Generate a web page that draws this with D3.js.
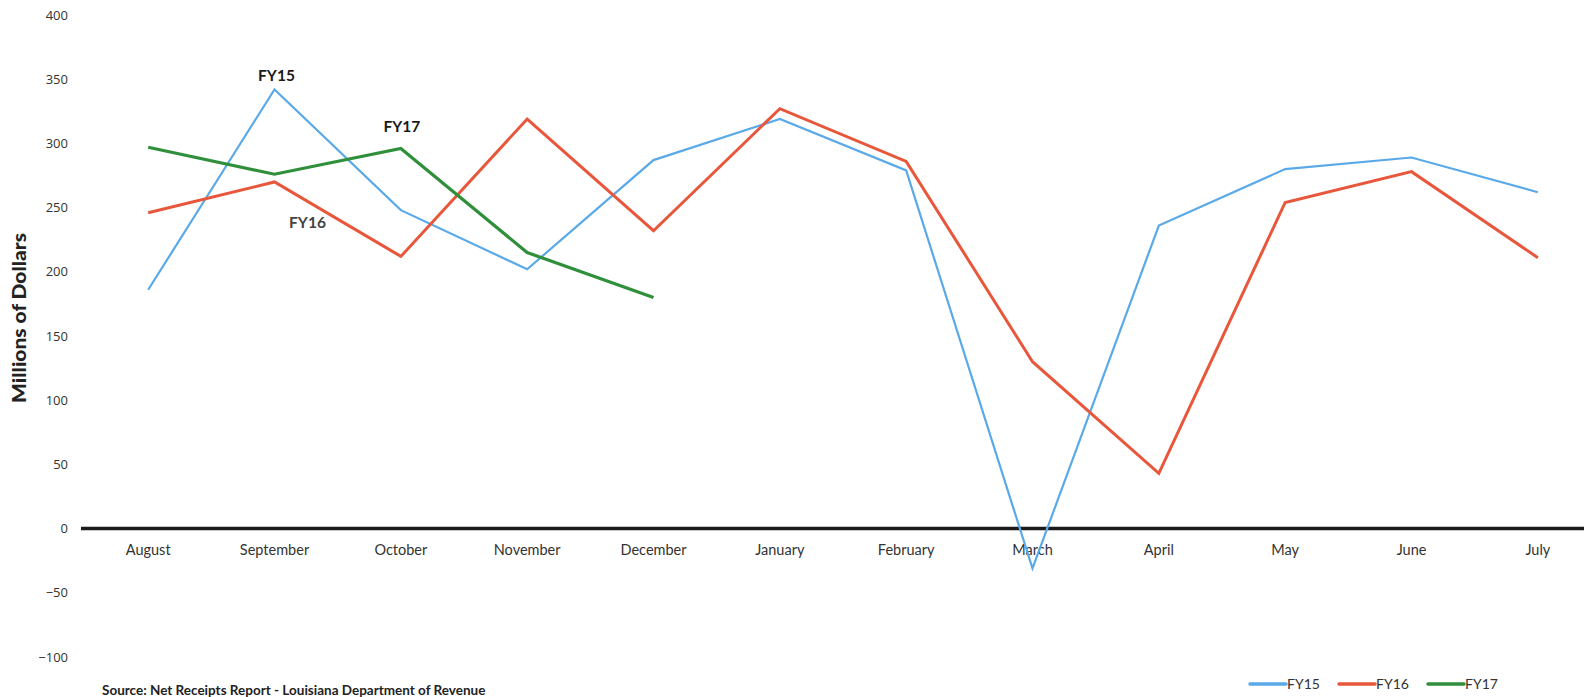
<!DOCTYPE html>
<html>
<head>
<meta charset="utf-8">
<script src="https://cdn.jsdelivr.net/npm/d3@7/dist/d3.min.js"></script>
<style>
  html, body { margin: 0; padding: 0; background: #fff; }
  svg { display: block; }
  text { font-family: Lato, "Open Sans", "DejaVu Sans", sans-serif; }
</style>
</head>
<body>
<svg id="chart" width="1584" height="697"></svg>
<script>
// Monthly net receipts by fiscal year (millions of dollars)
const months = ["August", "September", "October", "November", "December", "January",
                "February", "March", "April", "May", "June", "July"];
const fy15 = [186, 342, 248, 202, 287, 319, 279, -31, 236, 280, 289, 262];
const fy16 = [246, 270, 212, 319, 232, 327, 286, 130, 43, 254, 278, 211];
const fy17 = [297, 276, 296, 215, 180];
const yTicks = [-100, -50, 0, 50, 100, 150, 200, 250, 300, 350, 400];
const seriesNames = ["FY15", "FY16", "FY17"];
const seriesColors = ["#5aa9e8", "#e8573b", "#2f8f3b"];
const seriesWidths = [2.2, 3, 3.2];

const svg = d3.select("#chart");

const x = d3.scaleBand().domain(months).range([85, 1601]);
const y = d3.scaleLinear().domain([-100, 400]).range([657, 15]);
const cx = m => x(m) + x.bandwidth() / 2;

// Y axis: labels only
const yAxis = svg.append("g")
  .attr("transform", "translate(68,0)")
  .call(d3.axisLeft(y).tickValues(yTicks).tickSize(0).tickPadding(0));
yAxis.select(".domain").remove();
yAxis.selectAll("text")
  .attr("fill", "#333")
  .style("font-size", "13px")
  .style("font-family", "'Open Sans', Lato, sans-serif");

// X axis along zero: labels from the axis, heavy baseline drawn across the plot
const xAxis = svg.append("g")
  .attr("transform", `translate(0,${y(0)})`)
  .call(d3.axisBottom(x).tickSize(0).tickPadding(16));
xAxis.select(".domain").remove();
xAxis.append("line")
  .attr("x1", x.range()[0] - 4)
  .attr("x2", x.range()[1])
  .attr("y1", 0).attr("y2", 0)
  .attr("stroke", "#1a1a1a")
  .attr("stroke-width", 3.5);
xAxis.selectAll("text")
  .attr("fill", "#333")
  .style("font-size", "14.5px");

// Axis title
svg.append("text")
  .attr("transform", `translate(26,${318}) rotate(-90)`)
  .attr("text-anchor", "middle")
  .attr("font-weight", "900")
  .attr("fill", "#222")
  .attr("textLength", 170)
  .attr("lengthAdjust", "spacingAndGlyphs")
  .style("font-size", "19px")
  .text("Millions of Dollars");

// Series lines
const series = [fy15, fy16, fy17];
const line = d3.line()
  .x((d, i) => cx(months[i]))
  .y(d => y(d));

series.forEach((vals, k) => {
  svg.append("path")
    .datum(vals)
    .attr("fill", "none")
    .attr("stroke", seriesColors[k])
    .attr("stroke-width", seriesWidths[k])
    .attr("stroke-linejoin", "miter")
    .attr("d", line);
});

// In-chart series labels
const inlineLabels = [
  { name: "FY15", month: "September", val: fy15[1], dx: 2, dy: -8 },
  { name: "FY17", month: "October", val: fy17[2], dx: 1, dy: -17 },
  { name: "FY16", month: "September", val: fy16[1], dx: 33, dy: 46 }
];
svg.selectAll(".slabel")
  .data(inlineLabels)
  .enter().append("text")
  .attr("class", "slabel")
  .attr("x", d => cx(d.month) + d.dx)
  .attr("y", d => y(d.val) + d.dy)
  .attr("text-anchor", "middle")
  .attr("font-weight", "bold")
  .attr("fill", d => d.name === "FY16" ? "#444" : "#1a1a1a")
  .style("font-size", "15.5px")
  .text(d => d.name);

// Legend
const legend = svg.append("g").attr("transform", "translate(1250,684)");
seriesNames.forEach((name, k) => {
  const g = legend.append("g").attr("transform", `translate(${k * 89},0)`);
  g.append("line")
    .attr("x1", 0).attr("x2", 36)
    .attr("y1", 0).attr("y2", 0)
    .attr("stroke", seriesColors[k])
    .attr("stroke-width", 3.5)
    .attr("stroke-linecap", "round");
  g.append("text")
    .attr("x", 37)
    .attr("y", 5)
    .attr("fill", "#333")
    .style("font-size", "14px")
    .text(name);
});

// Source note
svg.append("text")
  .attr("x", 102)
  .attr("y", 695)
  .attr("font-weight", "bold")
  .attr("fill", "#222")
  .style("font-size", "13.5px")
  .text("Source: Net Receipts Report - Louisiana Department of Revenue");
</script>
</body>
</html>
